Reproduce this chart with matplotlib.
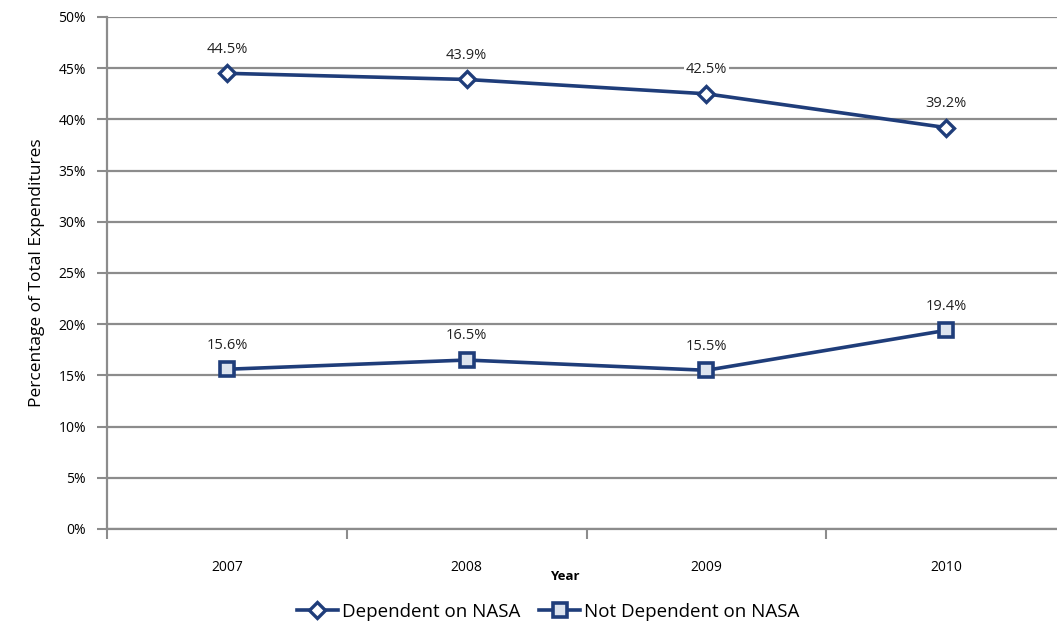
import matplotlib
matplotlib.use("Agg")
import matplotlib.pyplot as plt
from matplotlib.ticker import FuncFormatter, FixedLocator

years = ["2007", "2008", "2009", "2010"]
dependent = [44.5, 43.9, 42.5, 39.2]
not_dependent = [15.6, 16.5, 15.5, 19.4]
yticks = [0, 5, 10, 15, 20, 25, 30, 35, 40, 45, 50]

plt.rcParams['font.family'] = ['Open Sans', 'DejaVu Sans']
navy = '#1F3D7A'
grid_c = '#8C8C8C'

fig = plt.figure(figsize=(10.57, 6.31), dpi=100)
W, H = 1057, 631
x0, x1 = 107, 1066
yb, yt = 529, 17
ax = fig.add_axes([x0 / W, (H - yb) / H, (x1 - x0) / W, (yb - yt) / H])

xs = list(range(1, len(years) + 1))
ax.plot(xs, dependent, color=navy, lw=2.6, marker='D', ms=8, mfc='white',
        mec=navy, mew=2.4, label='Dependent on NASA', zorder=3)
ax.plot(xs, not_dependent, color=navy, lw=2.6, marker='s', ms=10, mfc='#DCE3EE',
        mec=navy, mew=2.6, label='Not Dependent on NASA', zorder=3)

for series in (dependent, not_dependent):
    for x, v in zip(xs, series):
        ax.annotate(f"{v:.1f}%", (x, v), xytext=(0, 12), textcoords='offset points',
                    ha='center', va='bottom', fontsize=10.5, color='#222222',
                    bbox=dict(boxstyle='square,pad=0.1', fc='white', ec='none'))

ax.set_xlim(0.5, len(years) + 0.5)
ax.set_ylim(0, 50)
ax.yaxis.set_major_locator(FixedLocator(yticks))
ax.yaxis.set_major_formatter(FuncFormatter(lambda v, p: f"{v:.0f}%"))
ax.grid(axis='y', color=grid_c, lw=1.6)
ax.set_axisbelow(True)

ax.set_xticks(xs)
ax.set_xticklabels(years)
ax.set_xticks([x + 0.5 for x in [0] + xs], minor=True)
ax.tick_params(axis='x', which='major', length=0, pad=22, labelsize=10)
ax.tick_params(axis='x', which='minor', length=7, width=1.5, color=grid_c, direction='out')
ax.tick_params(axis='y', length=7, width=1.5, color=grid_c, labelsize=10, pad=8)

for s in ['top', 'right']:
    ax.spines[s].set_visible(False)
for s in ['left', 'bottom']:
    ax.spines[s].set_color(grid_c)
    ax.spines[s].set_linewidth(1.6)

ax.set_ylabel('Percentage of Total Expenditures', fontsize=12.5, labelpad=10)
fig.text(565 / W, 1 - 576 / H, 'Year', ha='center', va='center', fontsize=9.5, fontweight='bold')

fig.legend(loc='center', bbox_to_anchor=(548 / W, 1 - 612 / H), ncol=2, frameon=False,
           fontsize=13.5, handlelength=2.2, columnspacing=1.0, handletextpad=0.2)

fig.savefig('out.png', dpi=100)
